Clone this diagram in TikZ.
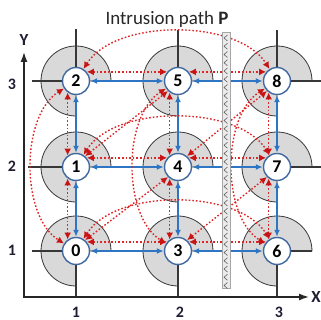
\documentclass[tikz,border=0pt]{standalone}
\usepackage{fontspec}
\setmainfont{Carlito}
\usetikzlibrary{arrows.meta}
\definecolor{myblue}{RGB}{46,117,196}
\definecolor{myred}{RGB}{222,38,38}
\definecolor{redtip}{RGB}{200,20,20}
\definecolor{ndborder}{RGB}{65,105,160}
\definecolor{secgray}{RGB}{217,217,217}
\definecolor{secedge}{RGB}{55,55,55}
\definecolor{labc}{RGB}{30,30,50}
\pgfdeclarelayer{bg}
\pgfsetlayers{bg,main}
\tikzset{
  nd/.style={circle, draw=ndborder, line width=1.4bp, fill=white, minimum size=27bp, inner sep=0pt, font=\bfseries\fontsize{18}{18}\selectfont},
  blu/.style={draw=myblue, line width=1.6bp, {Latex[length=7bp,width=6bp]}-{Latex[length=7bp,width=6bp]}},
  rd/.style={draw=myred, line width=1.4bp, dash pattern=on 1.6bp off 2bp, {Latex[length=7bp,width=7bp,color=redtip]}-{Latex[length=7bp,width=7bp,color=redtip]}},
  sec/.style={fill=secgray, draw=secedge, line width=0.8bp},
  wall/.style={draw=secedge, line width=1.1bp},
  ax/.style={draw=black!85, line width=1.4bp, {Latex[length=10bp,width=7bp]}-{Latex[length=10bp,width=7bp]}},
  lab/.style={text=labc, font=\bfseries\fontsize{16}{16}\selectfont},
  chev/.style={draw=black!60, line width=0.6bp},
}
\begin{document}
\begin{tikzpicture}[x=1bp,y=1bp]
\useasboundingbox (0,0) rectangle (321,320);
\foreach \n/\x/\y in {0/76/69,1/76/153,2/76/239,3/178/69,4/178/153,5/178/239,6/277/69,7/277/153,8/277/239}
  \node[nd] (n\n) at (\x,\y) {\n};

\begin{pgfonlayer}{bg}
% sectors
\foreach \n in {0,...,8}
  \filldraw[sec] (n\n.center) -- ++(35,0) arc[start angle=0,end angle=270,radius=35] -- cycle;
% walls
\coordinate (w2u) at (76,291); \coordinate (w2l) at (32,239);
\coordinate (w5u) at (178,290); \coordinate (w8u) at (277,290);
\coordinate (w8r) at (321,239); \coordinate (w1l) at (28,153);
\coordinate (w7r) at (321,153); \coordinate (w0l) at (32,69);
\coordinate (w0d) at (76,23); \coordinate (w3d) at (178,23);
\coordinate (w6d) at (277,23); \coordinate (w6r) at (312,69);
\draw[wall] (n2.center) -- (w2u) (n2.center) -- (w2l)
  (n5.center) -- (w5u) (n8.center) -- (w8u) (n8.center) -- (w8r)
  (n1.center) -- (w1l) (n7.center) -- (w7r)
  (n0.center) -- (w0l) (n0.center) -- (w0d) (n3.center) -- (w3d)
  (n6.center) -- (w6d) (n6.center) -- (w6r);
% blue links
\foreach \a/\b in {2/5,5/8,1/4,4/7,0/3,3/6,2/1,1/0,5/4,4/3,8/7,7/6}
  \draw[blu] (n\a) -- (n\b);
% red straight horizontal
\foreach \a/\b in {2/5,5/8,1/4,4/7,0/3,3/6}
  \draw[rd] (n\a.40) -- (n\b.140);
% red straight vertical
\foreach \a/\b in {2/1,1/0,5/4,4/3,8/7,7/6}
  \draw[rd] (n\a.234) -- (n\b.126);
% red arcs horizontal
\foreach \a/\b in {2/8,1/7,0/6}
  \draw[rd] (n\a.58) to[out=58,in=122,looseness=0.82] (n\b.122);
% red arcs vertical
\foreach \a/\b in {2/0,5/3,8/6}
  \draw[rd] (n\a.212) to[out=212,in=148,looseness=0.85] (n\b.148);
% red diagonals
\foreach \a/\b in {1/5,0/4,3/7,4/8}
  \draw[rd] (n\a.50) -- (n\b.225);
\end{pgfonlayer}

% intrusion strip
\filldraw[fill=black!8, draw=black!35, line width=0.8bp] (222,32) rectangle (230.5,288);
\foreach \k in {0,...,30}
  \draw[chev] (227.5,285-\k*8.25) -- (224,282-\k*8.25) -- (227.5,279-\k*8.25);

% axes
\coordinate (ytip) at (24,268); \coordinate (orig) at (24,23); \coordinate (xtip) at (309,23);
\draw[ax] (ytip) -- (orig) -- (xtip);
\node[lab, font=\bfseries\fontsize{17}{17}\selectfont] (ly) at (24,280) {Y};
\node[lab, font=\bfseries\fontsize{17}{17}\selectfont] (lx) at (316,23) {X};
\node[lab, anchor=base, inner sep=0pt] (t1) at (76,2.5) {1};
\node[lab, anchor=base, inner sep=0pt] (t2) at (180,2.5) {2};
\node[lab, anchor=base, inner sep=0pt] (t3) at (279,2.5) {3};
\node[lab] (s3) at (12,236) {3};
\node[lab] (s2) at (12,154) {2};
\node[lab] (s1) at (12,70) {1};
\node[font=\fontsize{19}{19}\selectfont, text=black!85, anchor=base] (title) at (167,296) {Intrusion path \textbf{P}};
\end{tikzpicture}
\end{document}
